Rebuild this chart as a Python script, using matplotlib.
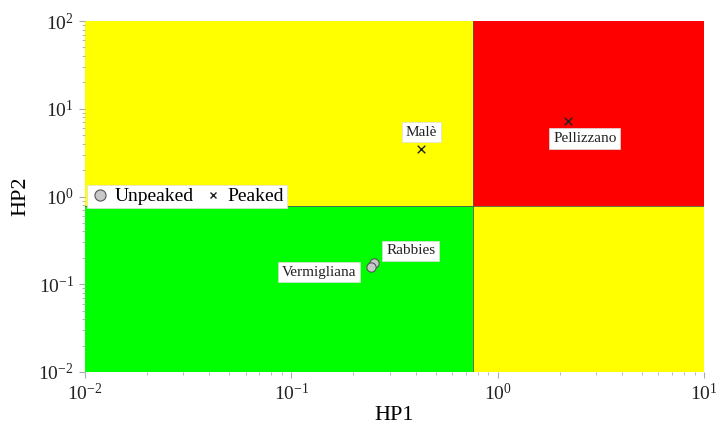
import matplotlib
matplotlib.use("Agg")
import matplotlib.pyplot as plt
from matplotlib.lines import Line2D

# sites and index values
unpeaked_names = ["Rabbies", "Vermigliana"]
unpeaked_hp1 = [0.251, 0.244]
unpeaked_hp2 = [0.175, 0.157]

peaked_names = ["Malè", "Pellizzano"]
peaked_hp1 = [0.427, 2.19]
peaked_hp2 = [3.47, 7.3]

# quadrant thresholds
hp1_limit = 0.76
hp2_limit = 0.78
x_range = [0.01, 10]
y_range = [0.01, 100]

# label offsets in pixels
label_offsets = {"Rabbies": (37, 12), "Vermigliana": (-52, -5),
                 "Malè": (0, 17), "Pellizzano": (17, -18)}

plt.rcParams["font.family"] = ["Liberation Serif", "DejaVu Serif"]
plt.rcParams["mathtext.fontset"] = "custom"
plt.rcParams["mathtext.rm"] = "Liberation Serif"
plt.rcParams["mathtext.default"] = "rm"

fig = plt.figure(figsize=(7.17, 4.29), dpi=100)
ax = fig.add_axes([0.1186, 0.1329, 0.8633, 0.8181])
ax.set_xscale("log")
ax.set_yscale("log")
ax.set_xlim(*x_range)
ax.set_ylim(*y_range)

# coloured quadrants
ax.fill_between([x_range[0], hp1_limit], y_range[0], hp2_limit, color="#00ff00", lw=0, zorder=0)
ax.fill_between([x_range[0], hp1_limit], hp2_limit, y_range[1], color="#ffff00", lw=0, zorder=0)
ax.fill_between([hp1_limit, x_range[1]], y_range[0], hp2_limit, color="#ffff00", lw=0, zorder=0)
ax.fill_between([hp1_limit, x_range[1]], hp2_limit, y_range[1], color="#ff0000", lw=0, zorder=0)
ax.plot([hp1_limit, hp1_limit], y_range, color="#555555", lw=0.6, zorder=1)
ax.plot(x_range, [hp2_limit, hp2_limit], color="#555555", lw=0.6, zorder=1)

ax.scatter(unpeaked_hp1, unpeaked_hp2, s=45, facecolor="#c8c8c8", edgecolor="#555555",
           linewidths=0.8, zorder=3)
ax.scatter(peaked_hp1, peaked_hp2, s=30, marker="x", color="#222222", linewidths=1.0, zorder=3)

box = dict(boxstyle="square,pad=0.25", facecolor="white", edgecolor="#dddddd", lw=0.5)
for names, xs, ys in [(unpeaked_names, unpeaked_hp1, unpeaked_hp2),
                      (peaked_names, peaked_hp1, peaked_hp2)]:
    for name, x, y in zip(names, xs, ys):
        ax.annotate(name, (x, y), xytext=label_offsets[name], textcoords="offset pixels",
                    ha="center", va="center", fontsize=11, color="#222222", bbox=box, zorder=4)

for s in ax.spines.values():
    s.set_visible(False)
ax.tick_params(which="both", direction="out", color="#aaaaaa", labelsize=14, labelcolor="#222222")
ax.tick_params(which="major", length=4, width=0.8, pad=4)
ax.tick_params(which="minor", length=2, width=0.6)

ax.set_xlabel("HP1", fontsize=16, labelpad=1)
ax.set_ylabel("HP2", fontsize=16, labelpad=6)

handles = [
    Line2D([], [], ls="", marker="o", markersize=8, markerfacecolor="#c8c8c8",
           markeredgecolor="#555555", markeredgewidth=0.8),
    Line2D([], [], ls="", marker="x", markersize=5, color="#222222", markeredgewidth=1.0),
]
leg = ax.legend(handles, ["Unpeaked", "Peaked"], ncol=2, loc="center left",
                bbox_to_anchor=(0.0, 0.50), fontsize=14, frameon=True, fancybox=False,
                handletextpad=0.25, columnspacing=0.5, handlelength=1.0,
                borderpad=0.15, borderaxespad=0.1)
leg.get_frame().set_edgecolor("#dddddd")
leg.get_frame().set_linewidth(0.5)
leg.get_frame().set_alpha(1.0)

fig.savefig("out.png", dpi=100)
